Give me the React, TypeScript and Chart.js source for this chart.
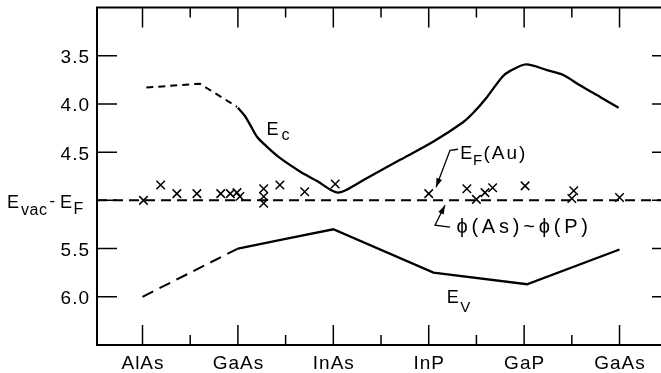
import { useEffect, useRef } from 'react';
import { Chart, registerables } from 'chart.js';

Chart.register(...registerables);

// ---------- data ----------
const categories = ['AlAs', 'GaAs', 'InAs', 'InP', 'GaP', 'GaAs'];
const yTickValues = [3.5, 4.0, 4.5, 5.0, 5.5, 6.0];
const yTickLabels = ['3.5', '4.0', '4.5', '', '5.5', '6.0'];
const fermiLevel = 5.0;
const xMin = -0.477;
const xMax = 5.55;
const yMin = 3.0;
const yMax = 6.5;

const ecDashedX = [0.04, 0.6, 0.99];
const ecDashedY = [3.83, 3.79, 4.03];
const ecSolidX = [1.0, 1.07, 1.13, 1.2, 1.3, 1.44, 1.65, 1.83, 1.97, 2.05, 2.14, 2.35, 2.7, 3.05, 3.36, 3.46, 3.61, 3.77, 3.85, 4.02, 4.24, 4.41, 4.59, 4.8, 4.99];
const ecSolidY = [4.04, 4.12, 4.22, 4.34, 4.44, 4.56, 4.7, 4.8, 4.89, 4.92, 4.89, 4.77, 4.58, 4.39, 4.19, 4.1, 3.93, 3.72, 3.66, 3.59, 3.65, 3.7, 3.81, 3.93, 4.04];

const evDashedX = [0.0, 1.0];
const evDashedY = [6.0, 5.5];
const evSolidX = [1.0, 1.5, 2.0, 3.05, 4.03, 5.0];
const evSolidY = [5.5, 5.4, 5.3, 5.75, 5.87, 5.51];

const markerX = [0.01, 0.19, 0.36, 0.57, 0.82, 0.92, 0.99, 1.02, 1.27, 1.27, 1.27, 1.44, 1.7, 2.02, 3.0, 3.4, 3.5, 3.59, 3.67, 4.01, 4.52, 4.5, 5.0];
const markerY = [5.0, 4.84, 4.93, 4.93, 4.93, 4.93, 4.92, 4.96, 4.88, 4.96, 5.03, 4.84, 4.91, 4.83, 4.93, 4.88, 4.99, 4.92, 4.87, 4.85, 4.9, 4.98, 4.97];

// annotation anchors (data units)
const ecLabel = { x: 1.3, y: 4.325 };
const evLabel = { x: 3.19, y: 6.068 };
const efAuLabel = { x: 3.33, y: 4.567 };
const phiLabel = { x: 3.29, y: 5.335 };
const efAuLeaderX = [3.307, 3.223, 3.077];
const efAuLeaderY = [4.47, 4.481, 4.864];
const phiLeaderX = [3.223, 3.066, 3.171];
const phiLeaderY = [5.278, 5.257, 5.05];

const FONT = '"Liberation Sans", Arial, Helvetica, sans-serif';

const zip = (xs: number[], ys: number[]) => xs.map((x, i) => ({ x, y: ys[i] }));

function txt(ctx: CanvasRenderingContext2D, s: string, x: number, y: number, size: number, spacing = 0, align: CanvasTextAlign = 'left') {
  ctx.font = `${size}px ${FONT}`;
  (ctx as any).letterSpacing = spacing + 'px';
  ctx.textAlign = align;
  ctx.textBaseline = 'alphabetic';
  let dx = 0;
  if (align === 'center') dx = spacing / 2;
  if (align === 'right') dx = spacing;
  ctx.fillText(s, x + dx, y);
  return ctx.measureText(s).width;
}

function leader(ctx: CanvasRenderingContext2D, chart: any, xs: number[], ys: number[]) {
  const { x, y } = chart.scales;
  const pts = xs.map((v, i) => [x.getPixelForValue(v), y.getPixelForValue(ys[i])]);
  ctx.beginPath();
  ctx.moveTo(pts[0][0], pts[0][1]);
  for (let i = 1; i < pts.length; i++) ctx.lineTo(pts[i][0], pts[i][1]);
  ctx.lineWidth = 1.3;
  ctx.stroke();
  const [x1, y1] = pts[pts.length - 2];
  const [x2, y2] = pts[pts.length - 1];
  const ang = Math.atan2(y2 - y1, x2 - x1);
  const L = 9, W = 3;
  ctx.beginPath();
  ctx.moveTo(x2, y2);
  ctx.lineTo(x2 - L * Math.cos(ang) + W * Math.sin(ang), y2 - L * Math.sin(ang) - W * Math.cos(ang));
  ctx.lineTo(x2 - L * Math.cos(ang) - W * Math.sin(ang), y2 - L * Math.sin(ang) + W * Math.cos(ang));
  ctx.closePath();
  ctx.fill();
}

const decor = {
  id: 'decor',
  beforeDatasetsDraw(chart: any) {
    const { ctx, chartArea: a } = chart;
    const { x, y } = chart.scales;
    ctx.save();
    ctx.strokeStyle = '#000';
    ctx.lineWidth = 2;
    ctx.strokeRect(a.left, a.top, a.right - a.left, a.bottom - a.top);
    ctx.lineWidth = 1.5;
    ctx.beginPath();
    yTickValues.forEach((v) => {
      const py = y.getPixelForValue(v);
      ctx.moveTo(a.left, py);
      ctx.lineTo(a.left + 20, py);
      ctx.moveTo(a.right, py);
      ctx.lineTo(a.right - 20, py);
    });
    for (let i = 0; i < categories.length; i++) {
      const px = x.getPixelForValue(i);
      ctx.moveTo(px, a.top);
      ctx.lineTo(px, a.top + 20);
      ctx.moveTo(px, a.bottom);
      ctx.lineTo(px, a.bottom - 20);
      const hx = x.getPixelForValue(i + 0.5);
      ctx.moveTo(hx, a.top);
      ctx.lineTo(hx, a.top + 10);
      ctx.moveTo(hx, a.bottom);
      ctx.lineTo(hx, a.bottom - 10);
    }
    ctx.stroke();
    ctx.restore();
  },
  afterDatasetsDraw(chart: any) {
    const { ctx, chartArea: a } = chart;
    const { x, y } = chart.scales;
    ctx.save();
    ctx.fillStyle = '#000';
    ctx.strokeStyle = '#000';
    // y tick labels
    yTickValues.forEach((v, i) => {
      if (!yTickLabels[i]) return;
      txt(ctx, yTickLabels[i], a.left - 8, y.getPixelForValue(v) + 7.5, 19, 1, 'right');
    });
    // Evac - EF label at fermi level
    const fy = y.getPixelForValue(fermiLevel);
    const cx = a.left - 90;
    txt(ctx, 'E', cx, fy + 8, 18, 0);
    txt(ctx, 'vac', cx + 14, fy + 15, 16, 0.5);
    txt(ctx, '-', cx + 42.5, fy + 6, 17, 0);
    txt(ctx, 'E', cx + 53, fy + 8, 18, 0);
    txt(ctx, 'F', cx + 66.5, fy + 13.5, 16, 0);
    // x labels
    categories.forEach((c, i) => {
      txt(ctx, c, x.getPixelForValue(i), a.bottom + 24, 19, 1, 'center');
    });
    // Ec
    let px = x.getPixelForValue(ecLabel.x), py = y.getPixelForValue(ecLabel.y);
    txt(ctx, 'E', px, py, 18);
    txt(ctx, 'c', px + 15, py + 5, 16);
    // Ev
    px = x.getPixelForValue(evLabel.x); py = y.getPixelForValue(evLabel.y);
    txt(ctx, 'E', px, py, 18);
    txt(ctx, 'V', px + 13.3, py + 8.4, 15);
    // EF(Au)
    px = x.getPixelForValue(efAuLabel.x); py = y.getPixelForValue(efAuLabel.y);
    txt(ctx, 'E', px, py, 18);
    txt(ctx, 'F', px + 12.7, py + 6.7, 15);
    txt(ctx, '(Au)', px + 23.3, py, 19, 2);
    // phi
    px = x.getPixelForValue(phiLabel.x); py = y.getPixelForValue(phiLabel.y);
    txt(ctx, 'ϕ(As)~ϕ(P)', px, py, 20, 3.8);
    // leaders
    leader(ctx, chart, efAuLeaderX, efAuLeaderY);
    leader(ctx, chart, phiLeaderX, phiLeaderY);
    ctx.restore();
  },
};

export default function App() {
  const ref = useRef<HTMLCanvasElement | null>(null);
  useEffect(() => {
    if (!ref.current) return;
    const line = (data: any[], width: number, dash: number[] = [], tension = 0) => ({
      data,
      showLine: true,
      borderColor: '#000',
      borderWidth: width,
      borderDash: dash,
      pointRadius: 0,
      fill: false,
      tension,
    });
    const chart = new Chart(ref.current, {
      type: 'scatter',
      data: {
        datasets: [
          line([{ x: xMin, y: fermiLevel }, { x: xMax, y: fermiLevel }], 2, [10, 6]),
          line(zip(ecDashedX, ecDashedY), 2, [7, 5]),
          line(zip(ecSolidX, ecSolidY), 2.3, [], 0.3),
          line(zip(evDashedX, evDashedY), 2, [12, 7]),
          line(zip(evSolidX, evSolidY), 2.3),
          {
            data: zip(markerX, markerY),
            showLine: false,
            pointStyle: 'crossRot',
            pointRadius: 6,
            pointBorderWidth: 1.5,
            borderColor: '#000',
            backgroundColor: '#000',
          } as any,
        ],
      },
      options: {
        responsive: false,
        animation: false,
        events: [],
        layout: { padding: { left: 97, top: 7, right: 28, bottom: 28 } },
        plugins: { legend: { display: false }, tooltip: { enabled: false } },
        scales: {
          x: { type: 'linear', min: xMin, max: xMax, display: false },
          y: { type: 'linear', min: yMin, max: yMax, reverse: true, display: false },
        },
      },
      plugins: [decor],
    });
    return () => chart.destroy();
  }, []);
  return (
    <div style={{ position: 'fixed', left: 0, top: 0, width: 661, height: 373, overflow: 'hidden', background: '#fff' }}>
      <canvas ref={ref} width={700} height={373} style={{ display: 'block', width: 700, height: 373 }} />
    </div>
  );
}
